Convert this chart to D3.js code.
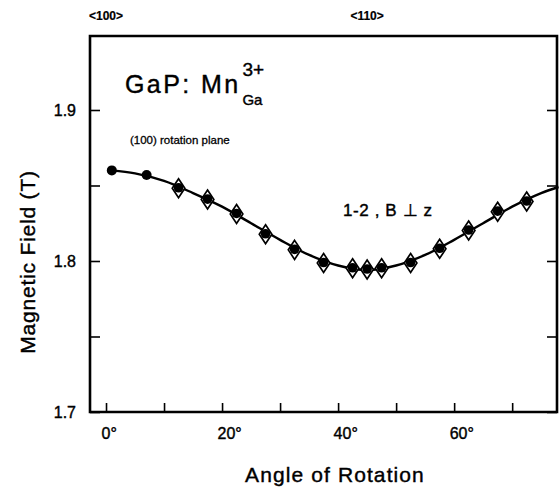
<!DOCTYPE html>
<html>
<head>
<meta charset="utf-8">
<script src="https://cdn.jsdelivr.net/npm/d3@7"></script>
<style>
  body { margin: 0; background: #fff; }
  svg { display: block; }
  text { font-family: "Liberation Sans", Arial, Helvetica, sans-serif; fill: #000; stroke: #000; stroke-width: 0.4px; }
</style>
</head>
<body>
<svg id="chart" width="559" height="489"></svg>
<script>
// Resonance field of the 1-2 transition, B perpendicular to z, (100) rotation plane
const dotAngles = [1, 7, 12.5, 17.5, 22.5, 27.5, 32.5, 37.5, 42.5, 45, 47.5, 52.5, 57.5, 62.5, 67.5, 72.5];
const dotField  = [1.860, 1.857, 1.8485, 1.841, 1.8315, 1.818, 1.8077, 1.799, 1.7955, 1.7947, 1.7955, 1.799, 1.8084, 1.8205, 1.833, 1.8397];

const diamondAngles = [12.5, 17.5, 22.5, 27.5, 32.5, 37.5, 42.5, 45, 47.5, 52.5, 57.5, 62.5, 67.5, 72.5];
const diamondField  = [1.8485, 1.841, 1.8315, 1.818, 1.8077, 1.799, 1.7955, 1.7947, 1.7955, 1.799, 1.8084, 1.8205, 1.833, 1.8397];

// Fitted angular dependence
const fitAngles = [1, 5, 10, 15, 20, 25, 30, 35, 40, 45, 50, 55, 60, 65, 70, 75, 78];
const fitField  = [1.860, 1.858, 1.853, 1.845, 1.836, 1.825, 1.814, 1.804, 1.797, 1.794, 1.797, 1.804, 1.814, 1.825, 1.836, 1.845, 1.849];

const xTicks = [0, 10, 20, 30, 40, 50, 60, 70];
const xTickLabels = ["0°", "", "20°", "", "40°", "", "60°", ""];
const yTicks = [1.7, 1.75, 1.8, 1.85, 1.9];
const yTickLabels = ["1.7", "", "1.8", "", "1.9"];

const dirAngles = [0, 45];
const dirLabels = ["<100>", "<110>"];

const W = 559, H = 489;
const margin = { left: 90, right: 1, top: 36, bottom: 77 };
const svg = d3.select("#chart");

const x = d3.scaleLinear().domain([-2.76, 77.9]).range([margin.left, W - margin.right]);
const y = d3.scaleLinear().domain([1.7, 1.949]).range([H - margin.bottom, margin.top]);

const plotL = margin.left, plotR = W - margin.right, plotT = margin.top, plotB = H - margin.bottom;

// Bottom axis: inward ticks, labels every 20°
const xAxis = d3.axisBottom(x).tickValues(xTicks).tickSize(-9).tickPadding(16)
  .tickFormat((d, i) => xTickLabels[i]);
const gx = svg.append("g").attr("transform", `translate(0,${plotB})`).call(xAxis);
gx.select(".domain").remove();
gx.selectAll(".tick line").attr("stroke", "#000").attr("stroke-width", 1.6);
gx.selectAll(".tick text").attr("font-size", 16).attr("fill", "#000")
  .attr("text-anchor", "start").attr("dx", -5);

// Left axis: inward ticks
const yAxis = d3.axisLeft(y).tickValues(yTicks).tickSize(-10).tickPadding(14)
  .tickFormat((d, i) => yTickLabels[i]);
const gy = svg.append("g").attr("transform", `translate(${plotL},0)`).call(yAxis);
gy.select(".domain").remove();
gy.selectAll(".tick line").attr("stroke", "#000").attr("stroke-width", 1.6);
gy.selectAll(".tick text").attr("font-size", 16).attr("fill", "#000");

// Right axis: inward ticks, no labels
const yAxisR = d3.axisRight(y).tickValues(yTicks).tickSize(-10).tickFormat("");
const gyr = svg.append("g").attr("transform", `translate(${plotR - 1},0)`).call(yAxisR);
gyr.select(".domain").remove();
gyr.selectAll(".tick line").attr("stroke", "#000").attr("stroke-width", 1.6);

// Frame
svg.append("path")
  .attr("d", `M${plotL},${plotT}H${plotR - 1}V${plotB}H${plotL}Z`)
  .attr("fill", "none").attr("stroke", "#000").attr("stroke-width", 2.6);

// Crystal direction labels above the frame
svg.append("g").selectAll("text").data(dirAngles).join("text")
  .attr("x", d => x(d)).attr("y", 20)
  .attr("text-anchor", "middle").attr("font-size", 12).attr("font-weight", "bold")
  .style("stroke-width", "0.2px")
  .text((d, i) => dirLabels[i]);

// Fitted curve
const fit = fitAngles.map((a, i) => [a, fitField[i]]);
svg.append("path")
  .datum(fit)
  .attr("fill", "none").attr("stroke", "#000").attr("stroke-width", 2.4)
  .attr("d", d3.line().x(d => x(d[0])).y(d => y(d[1])).curve(d3.curveCatmullRom));

// Open diamonds
const diamonds = diamondAngles.map((a, i) => [a, diamondField[i]]);
svg.append("g").selectAll("path").data(diamonds).join("path")
  .attr("transform", d => `translate(${x(d[0])},${y(d[1]) + 0.5})`)
  .attr("d", "M0,-9.5L6.3,0L0,9.5L-6.3,0Z")
  .attr("fill", "#fff").attr("stroke", "#000").attr("stroke-width", 1.7);

// Filled dots
const dots = dotAngles.map((a, i) => [a, dotField[i]]);
svg.append("g").selectAll("circle").data(dots).join("circle")
  .attr("cx", d => x(d[0])).attr("cy", d => y(d[1]))
  .attr("r", (d, i) => i < 2 ? 5 : 4.8)
  .attr("fill", "#000");

// Title with superscript / subscript
const title = svg.append("text").attr("x", 125).attr("y", 93)
  .attr("font-size", 25).attr("letter-spacing", 2.4).text("GaP: Mn");
const tw = title.node().getComputedTextLength();
svg.append("text").attr("x", 125 + tw + 2).attr("y", 76).attr("font-size", 19).text("3+");
svg.append("text").attr("x", 125 + tw + 2).attr("y", 105).attr("font-size", 15).text("Ga");

svg.append("text").attr("x", 130).attr("y", 144).attr("font-size", 11.5)
  .style("stroke-width", "0.3px").text("(100) rotation plane");

svg.append("text").attr("x", 343).attr("y", 216).attr("font-size", 17).attr("letter-spacing", 0.6)
  .text("1-2 , B \u22A5 z");

// Axis titles
svg.append("text")
  .attr("transform", `translate(35,${(plotT + plotB) / 2 + 38}) rotate(-90)`)
  .attr("text-anchor", "middle").attr("font-size", 21).attr("letter-spacing", 0.8)
  .text("Magnetic Field (T)");

svg.append("text").attr("x", 335).attr("y", 482)
  .attr("text-anchor", "middle").attr("font-size", 21).attr("letter-spacing", 1.1)
  .text("Angle of Rotation");
</script>
</body>
</html>
